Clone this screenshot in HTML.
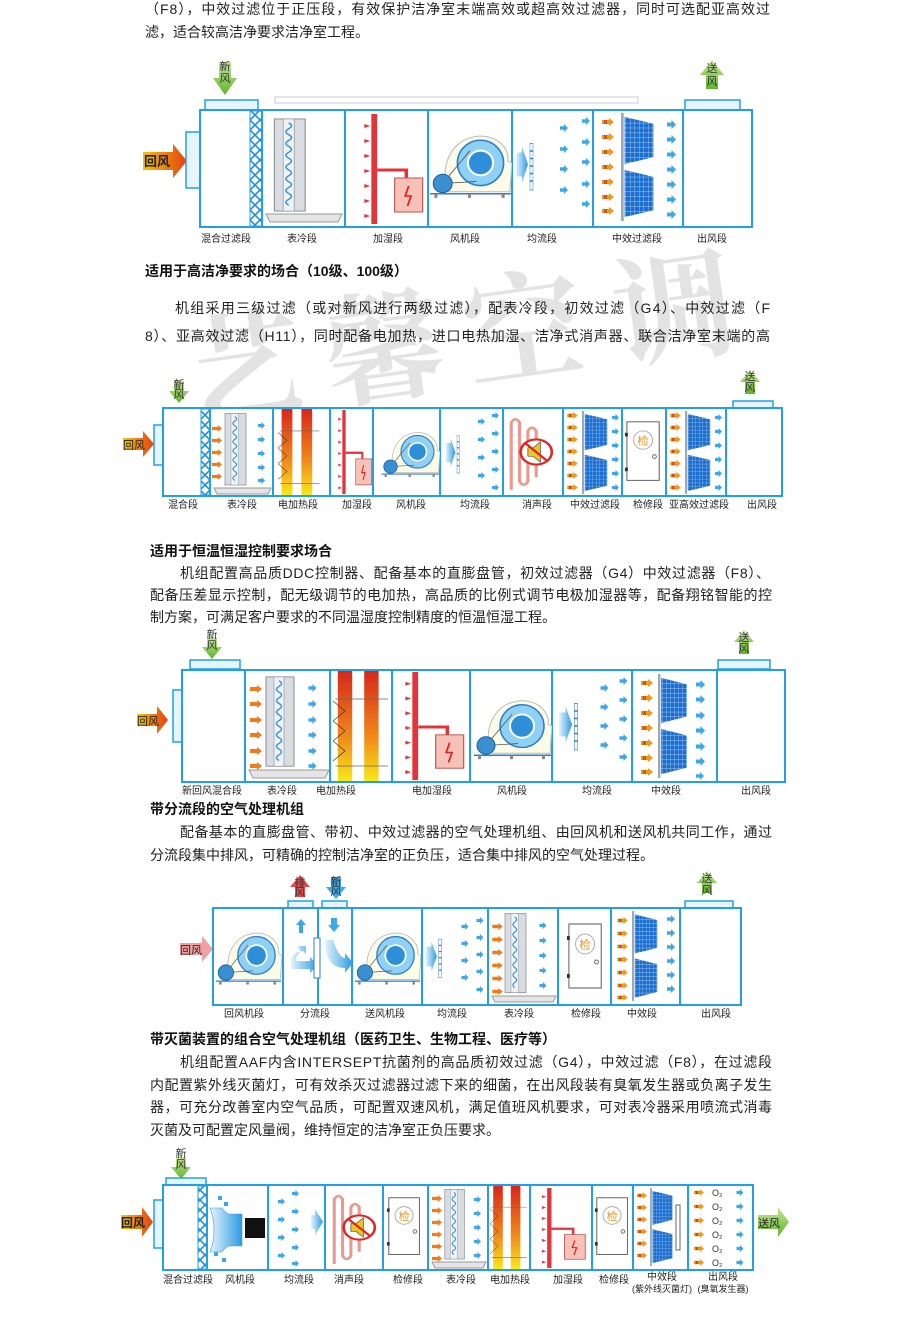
<!DOCTYPE html>
<html><head><meta charset="utf-8"><style>
html,body{margin:0;padding:0;background:#fff}
svg{display:block}
.t{font-family:"Liberation Sans","Noto Sans CJK SC",sans-serif;font-size:14px;fill:#222}
.h{font-family:"Liberation Sans","Noto Sans CJK SC",sans-serif;font-size:14px;font-weight:bold;fill:#111}
.l{font-family:"Liberation Sans","Noto Sans CJK SC",sans-serif;font-size:10px;fill:#222;text-anchor:middle}
.w{font-family:"Liberation Sans","Noto Sans CJK SC",sans-serif;font-size:11px;fill:#333;text-anchor:middle}
.bx{fill:#fff;stroke:#22a0e6;stroke-width:2}
.dv{stroke:#22a0e6;stroke-width:2}
.vt{fill:#e6f5fd;stroke:#22a0e6;stroke-width:1.5}
</style></head><body>
<svg width="900" height="1334" viewBox="0 0 900 1334" xmlns="http://www.w3.org/2000/svg">
<defs>
<pattern id="grid" width="5" height="5" patternUnits="userSpaceOnUse"><rect width="5" height="5" fill="#1d6fcf"/><path d="M0 0H5M0 0V5" stroke="#cfe6ff" stroke-width="0.7"/></pattern>
<pattern id="xx" width="10" height="10" patternUnits="userSpaceOnUse"><rect width="10" height="10" fill="#fff"/><path d="M0 0L10 10M10 0L0 10" stroke="#1f8fe0" stroke-width="1.6"/></pattern>
<linearGradient id="heat" x1="0" y1="0" x2="0" y2="1"><stop offset="0" stop-color="#d8261a"/><stop offset="0.6" stop-color="#f08a1a"/><stop offset="1" stop-color="#f7e81a"/></linearGradient>
<linearGradient id="org" x1="0" y1="0" x2="1" y2="0"><stop offset="0" stop-color="#f5c400"/><stop offset="1" stop-color="#e2401a"/></linearGradient>
<linearGradient id="grn" x1="0" y1="0" x2="0" y2="1"><stop offset="0" stop-color="#c7e59a"/><stop offset="1" stop-color="#5fb52a"/></linearGradient>
<linearGradient id="blu" x1="0" y1="0" x2="1" y2="0"><stop offset="0" stop-color="#e3f3fd"/><stop offset="1" stop-color="#2d9be3"/></linearGradient>
<symbol id="ba" viewBox="0 0 8 8"><path d="M0 2.2h4V0l4 4-4 4V5.8H0z" fill="#3aa8ea"/></symbol>
<symbol id="oa" viewBox="0 0 12 8"><path d="M0 2h7V0l5 4-5 4V6H0z" fill="#f29a18"/><path d="M2 2l3 4M5 2l-3 4" stroke="#b8321c" stroke-width="1"/></symbol>
<symbol id="oa2" viewBox="0 0 12 8"><path d="M0 2h7V0l5 4-5 4V6H0z" fill="#f27a18"/></symbol>
<symbol id="flt" viewBox="0 0 40 110" preserveAspectRatio="none"><rect x="0" y="0" width="3" height="110" fill="#9aa9b8"/><polygon points="4,4 36,11 36,45 4,52" fill="url(#grid)"/><polygon points="4,58 36,65 36,99 4,106" fill="url(#grid)"/></symbol>
<symbol id="coil" viewBox="0 0 40 100" preserveAspectRatio="none"><rect x="4" y="2" width="28" height="94" fill="#d9dde1" stroke="#8a9096"/><rect x="12" y="2" width="10" height="94" fill="#eef2f5" stroke="#8a9096" stroke-width="0.6"/><path d="M17 6q5 3 0 6t0 6t0 6t0 6t0 6t0 6t0 6t0 6t0 6t0 6t0 6t0 6t0 6t0 6" fill="none" stroke="#3a8fd0" stroke-width="1.4"/></symbol>
<symbol id="fan" viewBox="0 0 80 70" preserveAspectRatio="none"><path d="M20 60 C10 40 20 8 48 6 C68 5 78 20 76 30 L80 32 L78 60 Z" fill="#fbfbe8" stroke="#bbb" stroke-width="1"/><circle cx="50" cy="32" r="22" fill="#8fd0f5" stroke="#2d7fc9" stroke-width="1.5"/><circle cx="50" cy="32" r="12" fill="#2d8fd8" stroke="#fff" stroke-width="2"/><path d="M14 52 L40 20 M14 52 L46 50" stroke="#555" stroke-width="0.8"/><circle cx="14" cy="52" r="9" fill="#3a8fd0" stroke="#1b5f9c"/><path d="M2 62 H79" stroke="#2d7fc9" stroke-width="1.5"/><rect x="6" y="62" width="3" height="4" fill="#888"/><rect x="38" y="62" width="3" height="4" fill="#888"/><rect x="70" y="62" width="3" height="4" fill="#888"/></symbol>
<symbol id="heat2" viewBox="0 0 50 110" preserveAspectRatio="none"><rect x="4" y="0" width="12" height="110" fill="url(#heat)"/><rect x="26" y="0" width="12" height="110" fill="url(#heat)"/><path d="M0 30 L10 40 L0 50 L10 60 L0 70 L10 80 L0 90" fill="none" stroke="#333" stroke-width="0.6"/><path d="M2 28 H46 M2 95 H46" stroke="#666" stroke-width="0.8"/></symbol>
<symbol id="hum" viewBox="0 0 60 110" preserveAspectRatio="none"><rect x="14" y="0" width="5" height="110" fill="#e0353a"/><path d="M19 56 H44 V64" stroke="#e0353a" stroke-width="3" fill="none"/><rect x="34" y="64" width="24" height="34" fill="#f6c2b8" stroke="#b55"/><path d="M46 72 l-3 10 h5 l-3 10" stroke="#e02020" stroke-width="1.5" fill="none"/><g fill="#e0353a"><path d="M8 10l5 2-5 2z"/><path d="M8 25l5 2-5 2z"/><path d="M8 40l5 2-5 2z"/><path d="M8 55l5 2-5 2z"/><path d="M8 70l5 2-5 2z"/><path d="M8 85l5 2-5 2z"/><path d="M8 100l5 2-5 2z"/></g></symbol>
<symbol id="eq" viewBox="0 0 70 100" preserveAspectRatio="none"><path d="M2 30 H14 V22 L26 46 L14 70 V62 H2z" fill="url(#blu)"/><rect x="30" y="18" width="6" height="62" fill="#fff" stroke="#2d7fc9"/><path d="M30 28h6M30 38h6M30 48h6M30 58h6M30 68h6" stroke="#2d7fc9" stroke-width="2"/></symbol>
<symbol id="sil" viewBox="0 0 50 100" preserveAspectRatio="none"><path d="M6 95 V15 q4-8 8 0 V85 q4 8 8 0 V25 q4-8 8 0 V80" fill="none" stroke="#e79a8f" stroke-width="3"/><circle cx="30" cy="50" r="15" fill="#fff" stroke="#e02525" stroke-width="2.5"/><path d="M22 45h5l7-7v24l-7-7h-5z" fill="#e9c620" stroke="#333" stroke-width="0.6"/><path d="M19 39 L41 61" stroke="#e02525" stroke-width="2.5"/></symbol>
<symbol id="door" viewBox="0 0 40 70" preserveAspectRatio="none"><rect x="2" y="2" width="34" height="64" fill="#fff" stroke="#555"/><circle cx="19" cy="22" r="10" fill="#fff" stroke="#aaa"/><text x="19" y="27" font-size="12" fill="#f0901a" text-anchor="middle" font-family="Noto Sans CJK SC,sans-serif">检</text><rect x="0" y="14" width="3" height="4" fill="#333"/><rect x="0" y="52" width="3" height="4" fill="#333"/><circle cx="31" cy="40" r="2" fill="none" stroke="#666"/></symbol>
</defs>

<!-- watermark -->
<g opacity="0.13" font-family="Noto Serif CJK SC,serif" font-weight="bold" fill="#333">
<text x="190" y="420" font-size="120" transform="rotate(-8 190 420)">艺</text>
<text x="330" y="400" font-size="120" transform="rotate(-8 330 400)">馨</text>
<text x="470" y="380" font-size="120" transform="rotate(-8 470 380)">空</text>
<text x="620" y="360" font-size="120" transform="rotate(-8 620 360)">调</text>
</g>

<!-- ========== TEXT ========== -->
<text class="t" x="145" y="14" textLength="625" lengthAdjust="spacing">（F8），中效过滤位于正压段，有效保护洁净室末端高效或超高效过滤器，同时可选配亚高效过</text>
<text class="t" x="145" y="37">滤，适合较高洁净要求洁净室工程。</text>

<text class="h" x="145" y="276">适用于高洁净要求的场合（10级、100级）</text>
<text class="t" x="175" y="313" textLength="595" lengthAdjust="spacing">机组采用三级过滤（或对新风进行两级过滤），配表冷段，初效过滤（G4）、中效过滤（F</text>
<text class="t" x="145" y="341" textLength="625" lengthAdjust="spacing">8）、亚高效过滤（H11），同时配备电加热，进口电热加湿、洁净式消声器、联合洁净室末端的高</text>

<text class="h" x="150" y="556">适用于恒温恒湿控制要求场合</text>
<text class="t" x="180" y="578" textLength="590" lengthAdjust="spacing">机组配置高品质DDC控制器、配备基本的直膨盘管，初效过滤器（G4）中效过滤器（F8）、</text>
<text class="t" x="150" y="600" textLength="622" lengthAdjust="spacing">配备压差显示控制，配无级调节的电加热，高品质的比例式调节电极加湿器等，配备翔铭智能的控</text>
<text class="t" x="150" y="622">制方案，可满足客户要求的不同温湿度控制精度的恒温恒湿工程。</text>

<text class="h" x="150" y="814">带分流段的空气处理机组</text>
<text class="t" x="180" y="837" textLength="592" lengthAdjust="spacing">配备基本的直膨盘管、带初、中效过滤器的空气处理机组、由回风机和送风机共同工作，通过</text>
<text class="t" x="150" y="860">分流段集中排风，可精确的控制洁净室的正负压，适合集中排风的空气处理过程。</text>

<text class="h" x="150" y="1044">带灭菌装置的组合空气处理机组（医药卫生、生物工程、医疗等）</text>
<text class="t" x="180" y="1067" textLength="592" lengthAdjust="spacing">机组配置AAF内含INTERSEPT抗菌剂的高品质初效过滤（G4），中效过滤（F8），在过滤段</text>
<text class="t" x="150" y="1090" textLength="622" lengthAdjust="spacing">内配置紫外线灭菌灯，可有效杀灭过滤器过滤下来的细菌，在出风段装有臭氧发生器或负离子发生</text>
<text class="t" x="150" y="1112" textLength="622" lengthAdjust="spacing">器，可充分改善室内空气品质，可配置双速风机，满足值班风机要求，可对表冷器采用喷流式消毒</text>
<text class="t" x="150" y="1135">灭菌及可配置定风量阀，维持恒定的洁净室正负压要求。</text>

<!-- ========== DIAGRAM 1 ========== -->
<rect x="275" y="97" width="363" height="6" fill="#fff" stroke="#ccc"/>
<rect class="vt" x="205" y="100" width="53" height="10"/>
<rect class="vt" x="685" y="100" width="55" height="10"/>
<path d="M219 62h12v16h6l-12 17-12-17h6z" fill="url(#grn)"/>
<text class="w" x="225" y="70">新</text><text class="w" x="225" y="82">风</text>
<path d="M712 60l-12 15h6v14h12v-14h6z" fill="url(#grn)"/>
<text class="w" x="712" y="72">送</text><text class="w" x="712" y="85">风</text>
<path d="M143 152h30v-8l14 17-14 17v-8h-30z" fill="url(#org)"/>
<text x="144" y="166" font-size="13" font-weight="bold" fill="#222" font-family="Noto Sans CJK SC,sans-serif">回风</text>
<rect class="vt" x="186" y="132" width="14" height="56"/>
<rect class="bx" x="200" y="110" width="552" height="117"/>
<rect x="250" y="111" width="12" height="115" fill="url(#xx)" stroke="#22a0e6"/>
<path class="dv" d="M262 110V227M345 110V227M428 110V227M512 110V227M593 110V227M683 110V227"/>
<use href="#coil" x="270" y="117" width="44" height="98"/>
<path d="M266 214h76l-4 8h-68z" fill="#e5e5e5" stroke="#999"/>
<use href="#hum" x="355" y="114" width="70" height="110"/>
<use href="#fan" x="428" y="130" width="84" height="72"/>
<use href="#eq" x="515" y="130" width="35" height="75"/>
<g><use href="#ba" x="560" y="124" width="8" height="8"/><use href="#ba" x="560" y="145" width="8" height="8"/><use href="#ba" x="560" y="165" width="8" height="8"/><use href="#ba" x="560" y="186" width="8" height="8"/><use href="#ba" x="582" y="117" width="8" height="8"/><use href="#ba" x="582" y="138" width="8" height="8"/><use href="#ba" x="582" y="158" width="8" height="8"/><use href="#ba" x="582" y="180" width="8" height="8"/><use href="#ba" x="582" y="200" width="8" height="8"/></g>
<g><use href="#oa" x="602" y="118" width="12" height="8"/><use href="#oa" x="602" y="133" width="12" height="8"/><use href="#oa" x="602" y="148" width="12" height="8"/><use href="#oa" x="602" y="163" width="12" height="8"/><use href="#oa" x="602" y="178" width="12" height="8"/><use href="#oa" x="602" y="193" width="12" height="8"/><use href="#oa" x="602" y="207" width="12" height="8"/></g>
<use href="#flt" x="621" y="113" width="36" height="108"/>
<g><use href="#ba" x="667" y="120" width="9" height="9"/><use href="#ba" x="667" y="135" width="9" height="9"/><use href="#ba" x="667" y="150" width="9" height="9"/><use href="#ba" x="667" y="165" width="9" height="9"/><use href="#ba" x="667" y="180" width="9" height="9"/><use href="#ba" x="667" y="195" width="9" height="9"/><use href="#ba" x="667" y="210" width="9" height="9"/></g>
<g class="l"><text x="226" y="242">混合过滤段</text><text x="302" y="242">表冷段</text><text x="388" y="242">加湿段</text><text x="465" y="242">风机段</text><text x="542" y="242">均流段</text><text x="637" y="242">中效过滤段</text><text x="712" y="242">出风段</text></g>

<!-- ========== DIAGRAM 2 ========== -->
<rect class="vt" x="733" y="401" width="40" height="7"/>
<path d="M174 381h10v10h5l-10 12-10-12h5z" fill="url(#grn)"/>
<text class="w" x="179" y="388" font-size="9">新</text><text class="w" x="179" y="398" font-size="9">风</text>
<path d="M750 370l-10 12h5v12h10v-12h5z" fill="url(#grn)"/>
<text class="w" x="750" y="380" font-size="9">送</text><text class="w" x="750" y="391" font-size="9">风</text>
<path d="M123 438h20v-7l11 13-11 13v-7h-20z" fill="url(#org)"/>
<text x="123" y="449" font-size="11" fill="#222" font-family="Noto Sans CJK SC,sans-serif">回风</text>
<rect class="vt" x="154" y="425" width="9" height="40"/>
<rect class="bx" x="163" y="408" width="619" height="88"/>
<rect x="201" y="409" width="9" height="86" fill="url(#xx)" stroke="#22a0e6"/>
<path class="dv" d="M210 408V496M273 408V496M330 408V496M373 408V496M440 408V496M503 408V496M563 408V496M622 408V496M666 408V496M726 408V496"/>
<g><use href="#oa2" x="212" y="425" width="10" height="7"/><use href="#oa2" x="212" y="437" width="10" height="7"/><use href="#oa2" x="212" y="449" width="10" height="7"/><use href="#oa2" x="212" y="461" width="10" height="7"/><use href="#oa2" x="212" y="473" width="10" height="7"/></g>
<use href="#coil" x="222" y="412" width="30" height="76"/>
<path d="M214 488h57l-3 6h-51z" fill="#e5e5e5" stroke="#999"/>
<g><use href="#ba" x="258" y="422" width="7" height="7"/><use href="#ba" x="258" y="436" width="7" height="7"/><use href="#ba" x="258" y="450" width="7" height="7"/><use href="#ba" x="258" y="464" width="7" height="7"/><use href="#ba" x="258" y="477" width="7" height="7"/></g>
<use href="#heat2" x="278" y="409" width="45" height="86"/>
<use href="#hum" x="333" y="410" width="40" height="84"/>
<use href="#fan" x="380" y="428" width="60" height="52"/>
<use href="#eq" x="445" y="425" width="28" height="60"/>
<g><use href="#ba" x="478" y="418" width="7" height="7"/><use href="#ba" x="478" y="436" width="7" height="7"/><use href="#ba" x="478" y="454" width="7" height="7"/><use href="#ba" x="478" y="472" width="7" height="7"/><use href="#ba" x="492" y="412" width="7" height="7"/><use href="#ba" x="492" y="430" width="7" height="7"/><use href="#ba" x="492" y="448" width="7" height="7"/><use href="#ba" x="492" y="466" width="7" height="7"/><use href="#ba" x="492" y="484" width="7" height="7"/></g>
<use href="#sil" x="505" y="410" width="52" height="84"/>
<g><use href="#oa" x="567" y="412" width="11" height="7"/><use href="#oa" x="567" y="424" width="11" height="7"/><use href="#oa" x="567" y="436" width="11" height="7"/><use href="#oa" x="567" y="448" width="11" height="7"/><use href="#oa" x="567" y="460" width="11" height="7"/><use href="#oa" x="567" y="472" width="11" height="7"/><use href="#oa" x="567" y="484" width="11" height="7"/></g>
<use href="#flt" x="582" y="411" width="28" height="83"/>
<g><use href="#ba" x="612" y="414" width="7" height="7"/><use href="#ba" x="612" y="428" width="7" height="7"/><use href="#ba" x="612" y="442" width="7" height="7"/><use href="#ba" x="612" y="456" width="7" height="7"/><use href="#ba" x="612" y="470" width="7" height="7"/><use href="#ba" x="612" y="484" width="7" height="7"/></g>
<use href="#door" x="625" y="420" width="38" height="64"/>
<g><use href="#oa" x="670" y="412" width="11" height="7"/><use href="#oa" x="670" y="424" width="11" height="7"/><use href="#oa" x="670" y="436" width="11" height="7"/><use href="#oa" x="670" y="448" width="11" height="7"/><use href="#oa" x="670" y="460" width="11" height="7"/><use href="#oa" x="670" y="472" width="11" height="7"/><use href="#oa" x="670" y="484" width="11" height="7"/></g>
<use href="#flt" x="685" y="411" width="28" height="83"/>
<g><use href="#ba" x="715" y="414" width="7" height="7"/><use href="#ba" x="715" y="428" width="7" height="7"/><use href="#ba" x="715" y="442" width="7" height="7"/><use href="#ba" x="715" y="456" width="7" height="7"/><use href="#ba" x="715" y="470" width="7" height="7"/><use href="#ba" x="715" y="484" width="7" height="7"/></g>
<g class="l"><text x="183" y="508">混合段</text><text x="242" y="508">表冷段</text><text x="298" y="508">电加热段</text><text x="357" y="508">加湿段</text><text x="411" y="508">风机段</text><text x="475" y="508">均流段</text><text x="537" y="508">消声段</text><text x="595" y="508">中效过滤段</text><text x="648" y="508">检修段</text><text x="699" y="508">亚高效过滤段</text><text x="762" y="508">出风段</text></g>

<!-- ========== DIAGRAM 3 ========== -->
<rect class="vt" x="190" y="660" width="50" height="9"/>
<rect class="vt" x="718" y="660" width="52" height="9"/>
<path d="M207 637h10v10h5l-10 12-10-12h5z" fill="url(#grn)"/>
<text class="w" x="212" y="638" font-size="9">新</text><text class="w" x="212" y="649" font-size="9">风</text>
<path d="M744 630l-10 12h5v12h10v-12h5z" fill="url(#grn)"/>
<text class="w" x="744" y="641" font-size="9">送</text><text class="w" x="744" y="652" font-size="9">风</text>
<path d="M137 714h20v-8l11 14-11 14v-8h-20z" fill="url(#org)"/>
<text x="137" y="725" font-size="11" fill="#222" font-family="Noto Sans CJK SC,sans-serif">回风</text>
<rect class="vt" x="173" y="690" width="10" height="52"/>
<rect class="bx" x="182" y="670" width="603" height="112"/>
<path class="dv" d="M245 670V782M330 670V782M392 670V782M470 670V782M552 670V782M632 670V782M717 670V782"/>
<g><use href="#oa2" x="250" y="685" width="12" height="8"/><use href="#oa2" x="250" y="700" width="12" height="8"/><use href="#oa2" x="250" y="716" width="12" height="8"/><use href="#oa2" x="250" y="731" width="12" height="8"/><use href="#oa2" x="250" y="747" width="12" height="8"/><use href="#oa2" x="250" y="762" width="12" height="8"/></g>
<use href="#coil" x="262" y="675" width="40" height="95"/>
<path d="M249 770h80l-4 8h-72z" fill="#e5e5e5" stroke="#999"/>
<g><use href="#ba" x="308" y="684" width="9" height="8"/><use href="#ba" x="308" y="700" width="9" height="8"/><use href="#ba" x="308" y="716" width="9" height="8"/><use href="#ba" x="308" y="731" width="9" height="8"/><use href="#ba" x="308" y="747" width="9" height="8"/><use href="#ba" x="308" y="762" width="9" height="8"/></g>
<use href="#heat2" x="333" y="671" width="60" height="110"/>
<use href="#hum" x="396" y="672" width="70" height="108"/>
<use href="#fan" x="472" y="695" width="80" height="68"/>
<use href="#eq" x="558" y="690" width="38" height="75"/>
<g><use href="#ba" x="600" y="684" width="9" height="8"/><use href="#ba" x="600" y="703" width="9" height="8"/><use href="#ba" x="600" y="722" width="9" height="8"/><use href="#ba" x="600" y="741" width="9" height="8"/><use href="#ba" x="619" y="677" width="9" height="8"/><use href="#ba" x="619" y="696" width="9" height="8"/><use href="#ba" x="619" y="715" width="9" height="8"/><use href="#ba" x="619" y="734" width="9" height="8"/><use href="#ba" x="619" y="753" width="9" height="8"/></g>
<g><use href="#oa" x="641" y="679" width="12" height="8"/><use href="#oa" x="641" y="694" width="12" height="8"/><use href="#oa" x="641" y="709" width="12" height="8"/><use href="#oa" x="641" y="724" width="12" height="8"/><use href="#oa" x="641" y="739" width="12" height="8"/><use href="#oa" x="641" y="754" width="12" height="8"/><use href="#oa" x="641" y="768" width="12" height="8"/></g>
<use href="#flt" x="658" y="674" width="32" height="104"/>
<g><use href="#ba" x="696" y="680" width="9" height="9"/><use href="#ba" x="696" y="695" width="9" height="9"/><use href="#ba" x="696" y="711" width="9" height="9"/><use href="#ba" x="696" y="726" width="9" height="9"/><use href="#ba" x="696" y="742" width="9" height="9"/><use href="#ba" x="696" y="757" width="9" height="9"/><use href="#ba" x="696" y="772" width="8" height="8"/></g>
<g class="l"><text x="212" y="794">新回风混合段</text><text x="282" y="794">表冷段</text><text x="336" y="794">电加热段</text><text x="432" y="794">电加湿段</text><text x="512" y="794">风机段</text><text x="597" y="794">均流段</text><text x="666" y="794">中效段</text><text x="756" y="794">出风段</text></g>

<!-- ========== DIAGRAM 4 ========== -->
<rect class="vt" x="288" y="901" width="25" height="7"/>
<rect class="vt" x="322" y="901" width="25" height="7"/>
<rect class="vt" x="685" y="901" width="48" height="7"/>
<path d="M300 875l-10 12h5v10h10v-10h5z" fill="#e84a4a"/>
<text class="w" x="300" y="886" font-size="9" fill="#fff">排</text><text class="w" x="300" y="896" font-size="9">风</text>
<path d="M331 877h10v10h5l-10 12-10-12h5z" fill="#3aa8ea"/>
<text class="w" x="336" y="885" font-size="9">新</text><text class="w" x="336" y="895" font-size="9">风</text>
<path d="M707 871l-10 12h5v10h10v-10h5z" fill="url(#grn)"/>
<text class="w" x="707" y="882" font-size="9">送</text><text class="w" x="707" y="894" font-size="9">风</text>
<path d="M180 943h22v-7l11 13-11 13v-7h-22z" fill="#f0a0a0"/>
<text x="180" y="954" font-size="11" fill="#222" font-family="Noto Sans CJK SC,sans-serif">回风</text>
<rect class="bx" x="213" y="908" width="528" height="97"/>
<path class="dv" d="M283 908V1005M318 908V1005M352 908V1005M422 908V1005M488 908V1005M558 908V1005M611 908V1005M680 908V1005"/>
<use href="#fan" x="214" y="928" width="68" height="60"/>
<use href="#fan" x="353" y="928" width="68" height="60"/>
<path d="M296 925l5-6 5 6h-3v8h-4v-8z" fill="#3aa8ea"/>
<path d="M291 962 q0-10 10-10 l-3-6 8 0 v8 l-3-3 q-7 2-7 10 h14 v-4 l8 8-8 8 v-4 h-19z" fill="url(#blu)"/>
<rect x="314" y="938" width="6" height="40" fill="#fff" stroke="#2d7fc9"/>
<path d="M331 918h6v7h3l-6 7-6-7h3z" fill="#3aa8ea"/>
<path d="M325 940 h8 q6 18 12 18 v-5 l8 10-8 10 v-5 q-20 0-20-28z" fill="url(#blu)"/>
<use href="#eq" x="425" y="928" width="32" height="62"/>
<g><use href="#ba" x="461" y="923" width="8" height="7"/><use href="#ba" x="461" y="940" width="8" height="7"/><use href="#ba" x="461" y="957" width="8" height="7"/><use href="#ba" x="461" y="974" width="8" height="7"/><use href="#ba" x="476" y="917" width="8" height="7"/><use href="#ba" x="476" y="934" width="8" height="7"/><use href="#ba" x="476" y="951" width="8" height="7"/><use href="#ba" x="476" y="968" width="8" height="7"/><use href="#ba" x="476" y="986" width="8" height="7"/></g>
<g><use href="#oa2" x="492" y="923" width="11" height="7"/><use href="#oa2" x="492" y="936" width="11" height="7"/><use href="#oa2" x="492" y="949" width="11" height="7"/><use href="#oa2" x="492" y="962" width="11" height="7"/><use href="#oa2" x="492" y="975" width="11" height="7"/><use href="#oa2" x="492" y="988" width="11" height="7"/></g>
<use href="#coil" x="502" y="912" width="30" height="84"/>
<path d="M492 996h64l-3 6h-58z" fill="#e5e5e5" stroke="#999"/>
<g><use href="#ba" x="539" y="922" width="8" height="7"/><use href="#ba" x="539" y="937" width="8" height="7"/><use href="#ba" x="539" y="952" width="8" height="7"/><use href="#ba" x="539" y="967" width="8" height="7"/><use href="#ba" x="539" y="982" width="8" height="7"/></g>
<use href="#door" x="567" y="922" width="38" height="70"/>
<g><use href="#oa" x="617" y="917" width="11" height="7"/><use href="#oa" x="617" y="930" width="11" height="7"/><use href="#oa" x="617" y="943" width="11" height="7"/><use href="#oa" x="617" y="956" width="11" height="7"/><use href="#oa" x="617" y="969" width="11" height="7"/><use href="#oa" x="617" y="982" width="11" height="7"/><use href="#oa" x="617" y="994" width="11" height="7"/></g>
<use href="#flt" x="632" y="911" width="28" height="90"/>
<g><use href="#ba" x="667" y="915" width="8" height="8"/><use href="#ba" x="667" y="929" width="8" height="8"/><use href="#ba" x="667" y="943" width="8" height="8"/><use href="#ba" x="667" y="957" width="8" height="8"/><use href="#ba" x="667" y="971" width="8" height="8"/><use href="#ba" x="667" y="985" width="8" height="8"/></g>
<g class="l"><text x="244" y="1017">回风机段</text><text x="315" y="1017">分流段</text><text x="385" y="1017">送风机段</text><text x="452" y="1017">均流段</text><text x="519" y="1017">表冷段</text><text x="586" y="1017">检修段</text><text x="642" y="1017">中效段</text><text x="716" y="1017">出风段</text></g>

<!-- ========== DIAGRAM 5 ========== -->
<rect class="vt" x="166" y="1178" width="40" height="7"/>
<path d="M176 1157h10v10h5l-10 12-10-12h5z" fill="url(#grn)"/>
<text class="w" x="181" y="1157" font-size="9">新</text><text class="w" x="181" y="1168" font-size="9">风</text>
<path d="M121 1215h21v-8l11 15-11 15v-8h-21z" fill="url(#org)"/>
<text x="121" y="1227" font-size="12" font-weight="bold" fill="#222" font-family="Noto Sans CJK SC,sans-serif">回风</text>
<rect class="vt" x="154" y="1200" width="9" height="48"/>
<path d="M758 1215h20v-8l11 15-11 15v-8h-20z" fill="url(#grn)"/>
<text x="758" y="1227" font-size="11" fill="#222" font-family="Noto Sans CJK SC,sans-serif">送风</text>
<rect class="bx" x="163" y="1185" width="590" height="85"/>
<rect x="198" y="1186" width="9" height="83" fill="url(#xx)" stroke="#22a0e6"/>
<path class="dv" d="M207 1185V1270M268 1185V1270M325 1185V1270M383 1185V1270M428 1185V1270M488 1185V1270M530 1185V1270M592 1185V1270M633 1185V1270M688 1185V1270"/>
<path d="M210 1208 h12 q4 6 8 6 h12 v32 h-12 q-4 0-8 6 h-12 q4-10 4-22 q0-12-4-22z" fill="url(#blu)" stroke="#4a9ad8" stroke-width="0.6"/>
<rect x="245" y="1218" width="20" height="20" fill="#111"/>
<g fill="#3aa8ea"><rect x="218" y="1196" width="4" height="4"/><rect x="224" y="1202" width="4" height="4"/><rect x="214" y="1252" width="4" height="4"/><rect x="222" y="1258" width="4" height="4"/></g>
<g><use href="#ba" x="278" y="1198" width="7" height="7"/><use href="#ba" x="278" y="1216" width="7" height="7"/><use href="#ba" x="278" y="1234" width="7" height="7"/><use href="#ba" x="278" y="1252" width="7" height="7"/><use href="#ba" x="292" y="1190" width="7" height="7"/><use href="#ba" x="292" y="1208" width="7" height="7"/><use href="#ba" x="292" y="1226" width="7" height="7"/><use href="#ba" x="292" y="1244" width="7" height="7"/><use href="#ba" x="292" y="1260" width="7" height="7"/></g>
<path d="M311 1215h4v-6l8 13-8 13v-6h-4z" fill="url(#blu)"/>
<use href="#sil" x="328" y="1187" width="52" height="81"/>
<use href="#door" x="387" y="1196" width="36" height="62"/>
<g><use href="#oa2" x="432" y="1195" width="10" height="7"/><use href="#oa2" x="432" y="1207" width="10" height="7"/><use href="#oa2" x="432" y="1219" width="10" height="7"/><use href="#oa2" x="432" y="1231" width="10" height="7"/><use href="#oa2" x="432" y="1243" width="10" height="7"/><use href="#oa2" x="432" y="1255" width="10" height="7"/></g>
<use href="#coil" x="442" y="1188" width="28" height="74"/>
<path d="M432 1262h54l-3 6h-48z" fill="#e5e5e5" stroke="#999"/>
<g><use href="#ba" x="474" y="1196" width="7" height="7"/><use href="#ba" x="474" y="1210" width="7" height="7"/><use href="#ba" x="474" y="1224" width="7" height="7"/><use href="#ba" x="474" y="1238" width="7" height="7"/><use href="#ba" x="474" y="1252" width="7" height="7"/></g>
<use href="#heat2" x="490" y="1186" width="40" height="83"/>
<use href="#hum" x="535" y="1188" width="52" height="80"/>
<use href="#door" x="595" y="1196" width="36" height="62"/>
<g><use href="#oa" x="637" y="1192" width="10" height="7"/><use href="#oa" x="637" y="1204" width="10" height="7"/><use href="#oa" x="637" y="1216" width="10" height="7"/><use href="#oa" x="637" y="1228" width="10" height="7"/><use href="#oa" x="637" y="1240" width="10" height="7"/><use href="#oa" x="637" y="1252" width="10" height="7"/></g>
<use href="#flt" x="650" y="1188" width="25" height="78"/>
<rect x="676" y="1205" width="4" height="45" fill="#fff" stroke="#666"/>
<g><use href="#oa" x="694" y="1189" width="10" height="7"/><use href="#oa" x="694" y="1203" width="10" height="7"/><use href="#oa" x="694" y="1217" width="10" height="7"/><use href="#oa" x="694" y="1231" width="10" height="7"/><use href="#oa" x="694" y="1245" width="10" height="7"/><use href="#oa" x="694" y="1259" width="10" height="7"/></g>
<g font-size="9" fill="#333" font-family="Liberation Sans,sans-serif"><text x="712" y="1196">O₂</text><text x="712" y="1210">O₂</text><text x="712" y="1224">O₂</text><text x="712" y="1238">O₂</text><text x="712" y="1252">O₂</text><text x="712" y="1266">O₂</text></g>
<g><use href="#ba" x="736" y="1189" width="8" height="7"/><use href="#ba" x="736" y="1203" width="8" height="7"/><use href="#ba" x="736" y="1217" width="8" height="7"/><use href="#ba" x="736" y="1231" width="8" height="7"/><use href="#ba" x="736" y="1245" width="8" height="7"/><use href="#ba" x="736" y="1259" width="8" height="7"/></g>
<g class="l"><text x="188" y="1283">混合过滤段</text><text x="240" y="1283">风机段</text><text x="299" y="1283">均流段</text><text x="349" y="1283">消声段</text><text x="408" y="1283">检修段</text><text x="461" y="1283">表冷段</text><text x="510" y="1283">电加热段</text><text x="568" y="1283">加湿段</text><text x="614" y="1283">检修段</text><text x="662" y="1280">中效段</text><text x="723" y="1280">出风段</text></g>
<g class="l"><text x="662" y="1292" style="font-size:9px">(紫外线灭菌灯)</text><text x="723" y="1292" style="font-size:9px">(臭氧发生器)</text></g>
</svg>
</body></html>
